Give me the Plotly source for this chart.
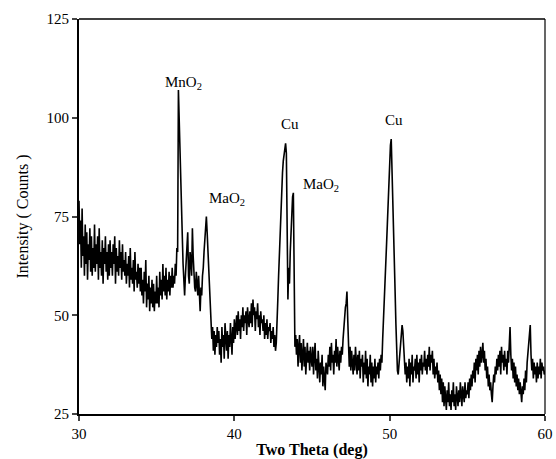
import plotly.graph_objects as go

# Two-theta grid start/step (deg) and intensities (0.05 deg spacing)
theta_start = 30.0
theta_step = 0.05
intensity = [
    79, 68, 74, 62, 77, 65, 70, 60, 73, 63, 71, 59, 68, 64, 72, 61, 70, 60, 67, 62,   # 30
    73, 61, 68, 63, 70, 59, 72, 62, 66, 60, 69, 58, 67, 63, 70, 61, 66, 59, 68, 60,   # 31
    69, 62, 66, 60, 68, 63, 70, 58, 67, 61, 65, 60, 69, 62, 66, 59, 68, 61, 64, 60,   # 32
    66, 58, 63, 60, 65, 57, 67, 59, 62, 58, 64, 56, 66, 59, 61, 57, 63, 58, 62, 56,   # 33
    62, 55, 59, 53, 61, 56, 64, 52, 58, 54, 60, 51, 57, 53, 59, 52, 58, 51, 56, 53,   # 34
    60, 53, 57, 52, 61, 55, 59, 54, 63, 56, 60, 55, 62, 54, 59, 56, 61, 55, 60, 57,   # 35
    62, 57, 60, 58, 63, 60, 67, 66, 107, 98, 92, 85, 77, 70, 63, 58, 55, 60, 64, 69,  # 36
    71, 60, 58, 66, 64, 60, 72, 65, 59, 57, 56, 61, 58, 55, 60, 54, 51, 57, 55, 60,   # 37
    62, 66, 70, 73, 75, 71, 66, 61, 56, 50, 46, 44, 47, 41, 46, 40, 45, 42, 47, 43,   # 38
    46, 40, 44, 38, 47, 42, 45, 39, 48, 43, 41, 46, 39, 45, 42, 48, 44, 40, 47, 43,   # 39
    49, 44, 47, 50, 45, 51, 46, 49, 44, 50, 47, 52, 46, 50, 48, 51, 45, 52, 49, 47,   # 40
    51, 48, 53, 47, 54, 50, 52, 46, 51, 49, 53, 47, 50, 45, 51, 48, 49, 46, 50, 44,   # 41
    48, 45, 49, 44, 47, 46, 48, 43, 46, 44, 47, 42, 45, 41, 43, 47, 54, 60, 66, 72,   # 42
    77, 82, 86, 89, 91, 92, 93.5, 91, 57, 54, 62, 58, 66, 71, 76, 80, 81, 47, 42, 45, # 43
    40, 44, 37, 42, 45, 38, 43, 36, 41, 44, 37, 42, 35, 40, 43, 38, 41, 36, 42, 39,   # 44
    37, 42, 35, 40, 43, 36, 39, 34, 41, 37, 33, 38, 35, 40, 32, 37, 34, 31, 38, 36,   # 45
    35, 40, 37, 42, 36, 43, 38, 40, 35, 41, 38, 44, 37, 42, 39, 36, 41, 38, 42, 40,   # 46
    44, 47, 50, 52, 53, 56, 49, 42, 37, 42, 36, 41, 38, 35, 40, 36, 42, 37, 35, 40,   # 47
    36, 41, 34, 39, 37, 40, 33, 38, 35, 41, 34, 39, 32, 37, 35, 40, 33, 38, 32, 37,   # 48
    34, 39, 33, 37, 35, 38, 34, 39, 36, 40, 38, 44, 48, 53, 58, 63, 68, 73, 79, 84,   # 49
    89, 93, 94.6, 88, 80, 72, 64, 56, 48, 41, 36, 35, 38, 41, 44, 46, 47.5, 46, 42, 38,  # 50
    35, 38, 33, 37, 34, 39, 32, 38, 35, 40, 33, 37, 36, 39, 34, 40, 35, 38, 33, 39,   # 51
    36, 40, 35, 38, 37, 41, 36, 39, 35, 40, 37, 42, 36, 40, 38, 41, 35, 39, 34, 37,   # 52
    35, 38, 33, 36, 31, 35, 30, 34, 28, 33, 27, 32, 29, 26, 31, 28, 33, 27, 30, 26,   # 53
    31, 28, 33, 27, 30, 26, 32, 29, 27, 31, 28, 33, 29, 27, 32, 30, 28, 33, 29, 31,   # 54
    30, 33, 29, 34, 31, 35, 32, 36, 34, 38, 33, 39, 36, 40, 35, 41, 37, 42, 38, 40,   # 55
    43, 38, 41, 36, 39, 34, 37, 32, 35, 31, 33, 30, 28, 32, 35, 33, 37, 35, 39, 36,   # 56
    40, 37, 41, 35, 42, 38, 40, 36, 41, 37, 39, 35, 41, 38, 44, 47, 40, 36, 39, 34,   # 57
    38, 33, 37, 32, 35, 31, 34, 30, 33, 29, 28, 32, 30, 34, 31, 36, 33, 38, 40, 43,   # 58
    45, 47.5, 40, 36, 39, 34, 38, 35, 37, 33, 38, 34, 37, 35, 39, 34, 38, 36, 37, 35, # 59
    36,                                                                               # 60
]
two_theta = [round(theta_start + i * theta_step, 3) for i in range(len(intensity))]

# Peak labels
label_text = ["MnO<sub>2</sub>", "MaO<sub>2</sub>", "Cu", "MaO<sub>2</sub>", "Cu"]
label_x = [36.75, 39.5, 43.6, 45.6, 50.3]
label_y = [108.7, 79.5, 98.3, 83.0, 99.5]

x_ticks = [30, 40, 50, 60]
y_ticks = [25, 50, 75, 100, 125]

FONT = "Liberation Serif, DejaVu Serif, serif"

fig = go.Figure()
fig.add_trace(go.Scatter(
    x=two_theta, y=intensity, mode="lines",
    line=dict(color="black", width=1.6),
    showlegend=False, hoverinfo="skip",
))

for t, x, y in zip(label_text, label_x, label_y):
    fig.add_annotation(x=x, y=y, text=t, showarrow=False,
                       font=dict(family=FONT, size=15, color="black"))

fig.update_layout(
    width=556, height=459,
    margin=dict(l=79, r=11, t=19, b=45),
    paper_bgcolor="white", plot_bgcolor="white",
    font=dict(family=FONT, color="black"),
    xaxis=dict(
        range=[30, 60], tickvals=x_ticks, ticks="outside", ticklen=5, tickwidth=1.5,
        showline=True, linecolor="black", linewidth=2, showgrid=False, zeroline=False,
        automargin=False,
        tickfont=dict(family=FONT, size=15, color="black"),
        title=dict(text="<b>Two Theta (deg)</b>", font=dict(family=FONT, size=16), standoff=4),
    ),
    yaxis=dict(
        range=[25, 125], tickvals=y_ticks, ticks="outside", ticklen=5, tickwidth=1.5,
        showline=True, linecolor="black", linewidth=2, showgrid=False, zeroline=False,
        automargin=False,
        tickfont=dict(family=FONT, size=15, color="black"),
        title=dict(text="Intensity ( Counts )", font=dict(family=FONT, size=16), standoff=14),
    ),
)
# top and right frame
fig.add_shape(type="line", xref="paper", yref="paper", x0=0, x1=1, y0=1, y1=1,
              line=dict(color="black", width=1.5))
fig.add_shape(type="line", xref="paper", yref="paper", x0=1, x1=1, y0=0, y1=1,
              line=dict(color="black", width=1.2))

fig.write_html("out.html")
